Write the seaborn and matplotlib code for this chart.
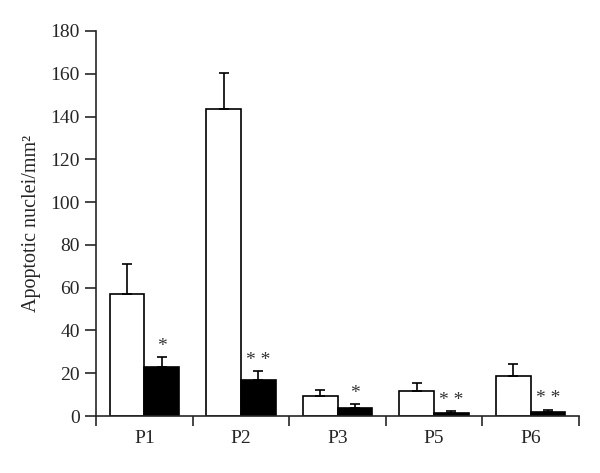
import matplotlib
matplotlib.use("Agg")
import matplotlib.pyplot as plt
import seaborn as sns
import pandas as pd
import numpy as np

categories = ["P1", "P2", "P3", "P5", "P6"]
groups = ["control", "treated"]
control_mean = [56.9, 143.5, 9.5, 11.8, 18.8]
control_err = [14.2, 16.9, 2.8, 3.4, 5.6]
treated_mean = [22.8, 16.8, 3.9, 1.6, 2.0]
treated_err = [4.9, 4.1, 1.6, 0.8, 1.0]
stars = ["*", "* *", "*", "* *", "* *"]

df = pd.DataFrame({
    "stage": categories * 2,
    "group": [groups[0]] * len(categories) + [groups[1]] * len(categories),
    "value": control_mean + treated_mean,
})

sns.set_style("ticks")
plt.rcParams["font.family"] = ["Liberation Serif", "DejaVu Serif"]

fig = plt.figure(figsize=(6, 4.73), dpi=100)
ax = fig.add_axes([0.16, 0.1205, 0.805, 0.814])

sns.barplot(
    data=df, x="stage", y="value", hue="group", order=categories,
    hue_order=groups, palette=["white", "black"], edgecolor="black",
    linewidth=1.2, width=0.72, errorbar=None, legend=False, ax=ax,
)

# error bars (upper only) from bar positions
n = len(categories)
for gi, (means, errs) in enumerate([(control_mean, control_err), (treated_mean, treated_err)]):
    bars = ax.patches[gi * n:(gi + 1) * n]
    xs = [b.get_x() + b.get_width() / 2 for b in bars]
    ax.errorbar(xs, means, yerr=[np.zeros(n), errs], fmt="none",
                ecolor="black", elinewidth=1.2, capsize=3.8, capthick=1.2)
    if gi == 1:
        for x, m, e, s in zip(xs, means, errs, stars):
            ax.text(x, m + e + 1.0, s, ha="center", va="bottom",
                    fontsize=14, color="#333333")

ax.set_ylim(0, 180)
ax.set_yticks(range(0, 181, 20))
ax.set_xlim(-0.5, n - 0.5)
ax.set_xticks(np.arange(-0.5, n, 1.0))
ax.set_xticklabels([])
ax.set_xticks(range(n), minor=True)
ax.set_xticklabels(categories, minor=True)
ax.tick_params(axis="x", which="major", length=7, width=1.2, direction="out")
ax.tick_params(axis="x", which="minor", length=0, pad=10, labelsize=14)
ax.tick_params(axis="y", length=8, width=1.2, direction="out", labelsize=14)

ax.set_xlabel("")
ax.set_ylabel("Apoptotic nuclei/mm²", fontsize=14.5, labelpad=7)
sns.despine(ax=ax)
for side in ["left", "bottom"]:
    ax.spines[side].set_linewidth(1.2)

fig.savefig("out.png", dpi=100)
